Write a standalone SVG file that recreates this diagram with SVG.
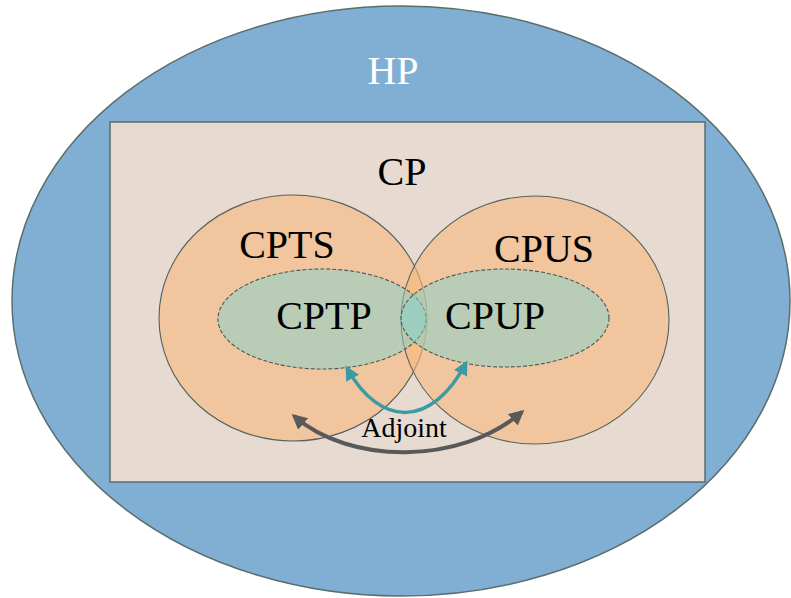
<svg xmlns="http://www.w3.org/2000/svg" width="791" height="598" viewBox="0 0 791 598">
<style>
.lbl{font-family:"Liberation Serif","Times New Roman",serif;font-size:40px;fill:#000;text-anchor:middle}
.set{fill:#f8b77a;fill-opacity:0.6;stroke:#55625f;stroke-width:1.1}
.sub{fill:#81d3cf;fill-opacity:0.5;stroke:#4c5858;stroke-width:1.1;stroke-dasharray:4 2}
</style>
<defs>
<marker id="tealHead" viewBox="0 0 10 10" refX="8" refY="5" markerWidth="4.2" markerHeight="4.2" orient="auto-start-reverse" markerUnits="strokeWidth"><path d="M0,0 L10,5 L0,10 Z" fill="#3b9aa4"/></marker>
<marker id="grayHead" viewBox="0 0 10 10" refX="8" refY="5" markerWidth="3.8" markerHeight="3.8" orient="auto-start-reverse" markerUnits="strokeWidth"><path d="M0,0 L10,5 L0,10 Z" fill="#595959"/></marker>
</defs>
<g id="HP">
<ellipse cx="401" cy="301" rx="389" ry="295" fill="#80afd3" stroke="#5a6e6e" stroke-width="1.5"/>
<text x="393" y="84" class="lbl" style="fill:#fff">HP</text>
</g>
<g id="CP">
<rect x="110" y="122" width="595" height="360" fill="#e6dad1" stroke="#5a6e6e" stroke-width="1.5"/>
<text x="402" y="185" class="lbl">CP</text>
</g>
<g id="CPTS">
<ellipse cx="293" cy="318" rx="134" ry="123" class="set"/>
<text x="287" y="258" class="lbl">CPTS</text>
</g>
<g id="CPUS">
<ellipse cx="535" cy="320" rx="134" ry="124" class="set"/>
<text x="544" y="262" class="lbl">CPUS</text>
</g>
<g id="CPTP">
<ellipse cx="322" cy="319" rx="104" ry="50" class="sub"/>
<text x="324" y="329" class="lbl">CPTP</text>
</g>
<g id="CPUP">
<ellipse cx="505" cy="318" rx="104" ry="49" class="sub"/>
<text x="495" y="329" class="lbl">CPUP</text>
</g>
<g id="connectors" fill="none">
<path d="M347,368 C380,428 432,428 466,363" stroke="#3b9aa4" stroke-width="3.5" marker-start="url(#tealHead)" marker-end="url(#tealHead)"/>
<path d="M294,416 C350,465 460,465 522,412" stroke="#595959" stroke-width="4" marker-start="url(#grayHead)" marker-end="url(#grayHead)"/>
<text x="404" y="437" style="font-family:'Liberation Serif','Times New Roman',serif;font-size:28px;fill:#000;text-anchor:middle">Adjoint</text>
</g>
</svg>
